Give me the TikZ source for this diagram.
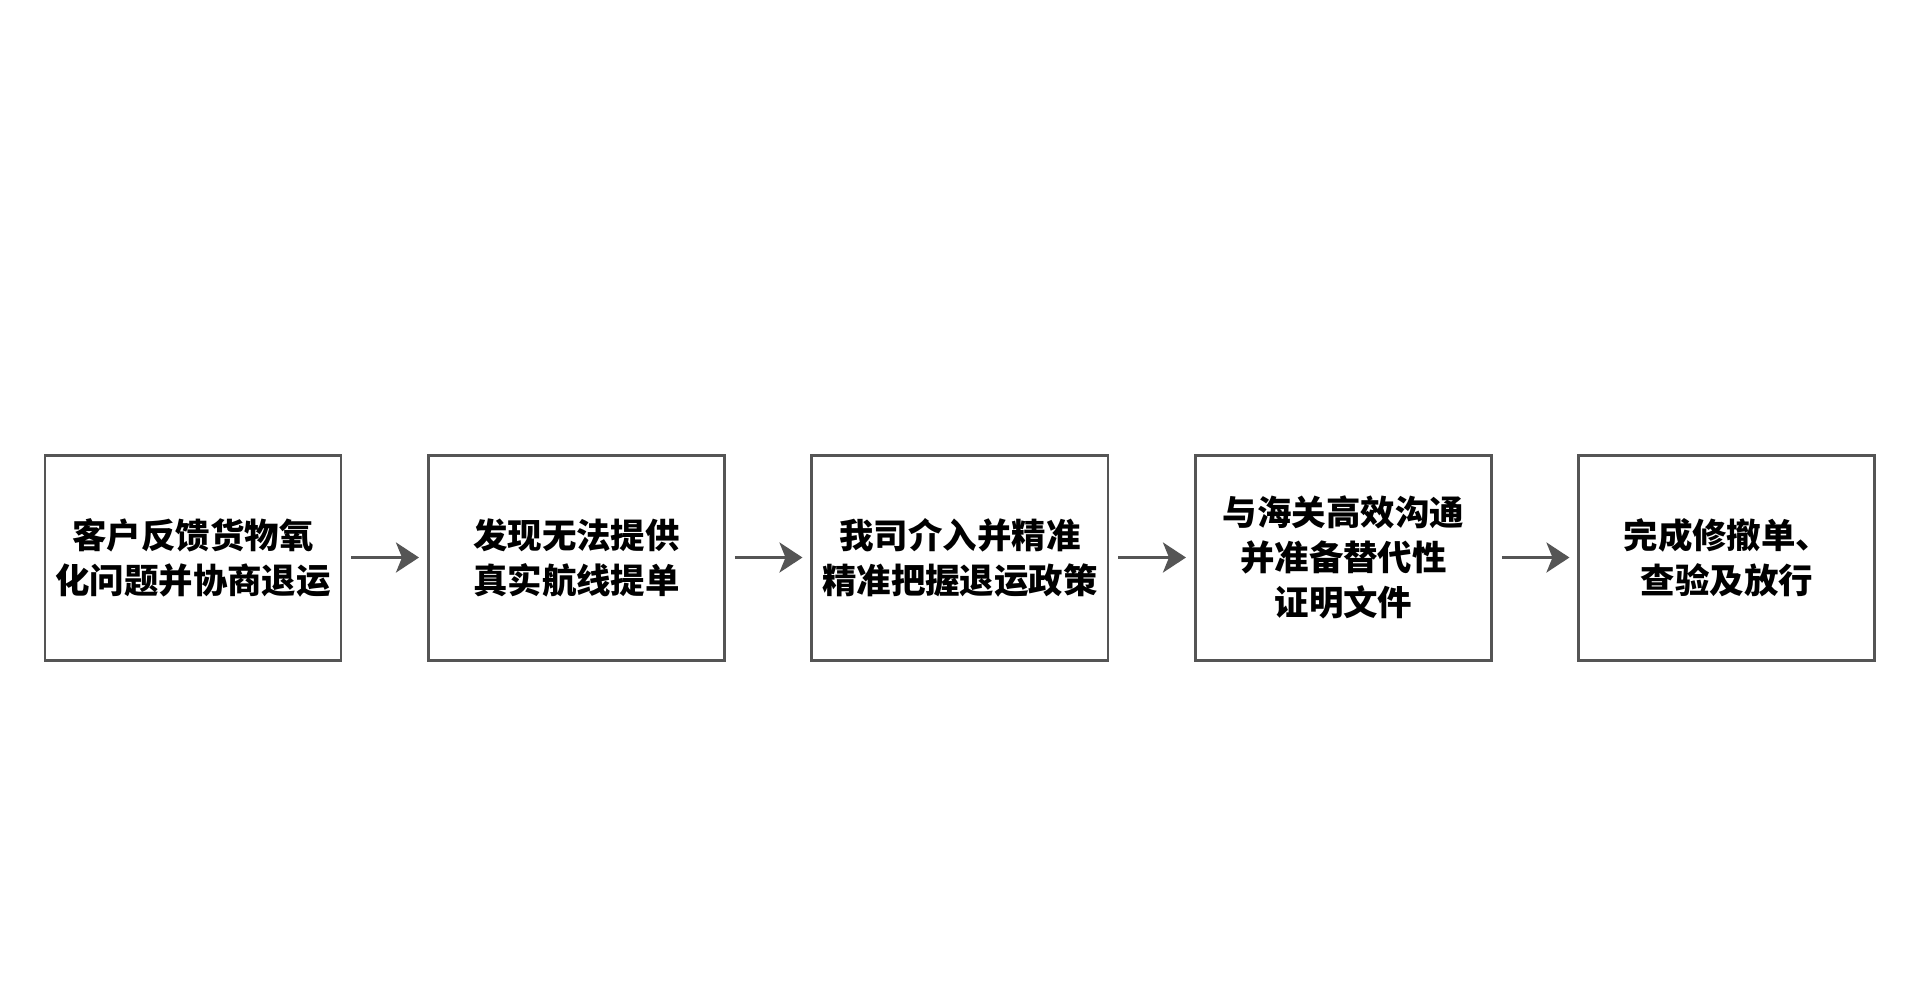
\documentclass[tikz,border=0pt]{standalone}
\usepackage{fontspec}
\newfontfamily\cjk{Noto Sans CJK SC}
\usetikzlibrary{positioning,arrows.meta}
\definecolor{boxgray}{HTML}{555555}

\begin{document}
\begin{tikzpicture}[x=1cm,y=1cm,
    every node/.style={draw=boxgray,line width=0.85pt,minimum width=2.96cm,minimum height=2.05cm,
      align=center,inner sep=0pt,font=\cjk\bfseries\fontsize{9.8pt}{12.8pt}\selectfont},
    node distance=0.845cm,
    flow/.style={draw=boxgray,line width=0.9pt,-{Stealth[length=0.23cm,width=0.3cm,inset=0.06cm]},
      shorten <=0.09cm,shorten >=0.08cm}]
  \useasboundingbox (0,0) rectangle (19.2,9.89);
  \node (s1) at (1.93,4.315) {客户反馈货物氧\\化问题并协商退运};
  \node (s2) [right=of s1] {发现无法提供\\真实航线提单};
  \node (s3) [right=of s2] {我司介入并精准\\精准把握退运政策};
  \node (s4) [right=of s3] {与海关高效沟通\\并准备替代性\\证明文件};
  \node (s5) [right=of s4] {完成修撤单、\\查验及放行};
  \foreach \a/\b in {s1/s2,s2/s3,s3/s4,s4/s5}
    \draw[flow] (\a) -- (\b);
\end{tikzpicture}
\end{document}
